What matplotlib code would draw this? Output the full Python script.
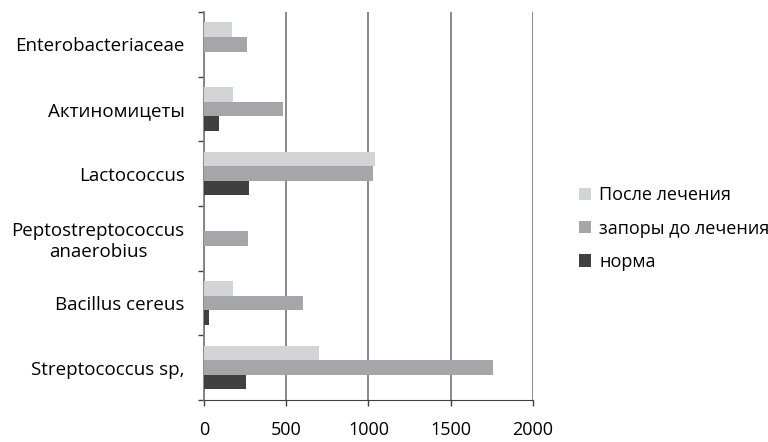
import numpy as np
import matplotlib.pyplot as plt
from matplotlib.ticker import FixedLocator

plt.rcParams['font.family'] = ['Open Sans', 'DejaVu Sans']

# categories from bottom to top
categories = ['Streptococcus sp,', 'Bacillus cereus', 'Peptostreptococcus\nanaerobius',
              'Lactococcus', 'Актиномицеты', 'Enterobacteriaceae']
posle = [698, 175, 0, 1040, 175, 168]
zapory = [1756, 600, 266, 1026, 478, 260]
norma = [254, 29, 0, 274, 89, 0]

fig = plt.figure(figsize=(7.68, 4.42), dpi=100)
ax = fig.add_axes([0.2656, 0.095, 0.4284, 0.878])

y = np.arange(len(categories))
h = 0.225
ax.barh(y + h, posle, height=h, color='#d3d4d6', label='После лечения', zorder=3)
ax.barh(y, zapory, height=h, color='#a6a6aa', label='запоры до лечения', zorder=3)
ax.barh(y - h, norma, height=h, color='#404040', label='норма', zorder=3)

ax.set_xlim(0, 2000)
ax.set_ylim(-0.5, len(categories) - 0.5)
ax.set_xticks([0, 500, 1000, 1500, 2000])
ax.set_yticks(y)
ax.set_yticklabels(categories, fontsize=13.5, multialignment='center')
ax.yaxis.set_minor_locator(FixedLocator(np.arange(-0.5, len(categories), 1)))
ax.tick_params(axis='y', which='major', length=0, pad=14)
ax.tick_params(axis='y', which='minor', length=4, width=1, color='#404040')
ax.tick_params(axis='x', length=4, width=1, color='#404040', labelsize=13, pad=11)

ax.grid(axis='x', color='#808080', linewidth=1.3, zorder=0)
for s in ['top', 'right']:
    ax.spines[s].set_visible(False)
ax.spines['left'].set_color('#808080')
ax.spines['left'].set_linewidth(1.3)
ax.spines['bottom'].set_color('#404040')

handles, labels = ax.get_legend_handles_labels()
fig.legend(handles, labels, loc='center left', bbox_to_anchor=(0.733, 0.483),
           frameon=False, fontsize=13, handlelength=0.65, handleheight=0.65,
           handletextpad=0.45, labelspacing=0.85)

fig.savefig('out.png', dpi=100)
